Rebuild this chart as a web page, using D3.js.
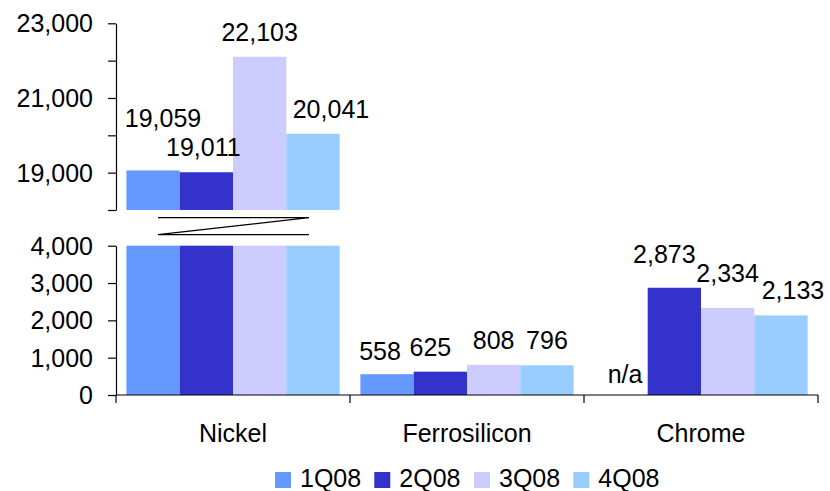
<!DOCTYPE html>
<html>
<head>
<meta charset="utf-8">
<script src="https://cdn.jsdelivr.net/npm/d3@7"></script>
<style>
  body { margin: 0; background: #fff; }
  svg text { font-family: "Liberation Sans", Arial, sans-serif; font-size: 25px; fill: #000; }
</style>
</head>
<body>
<svg id="chart" width="830" height="491"></svg>
<script>
// Price data by product and quarter
const categories = ["Nickel", "Ferrosilicon", "Chrome"];
const seriesNames = ["1Q08", "2Q08", "3Q08", "4Q08"];
const q1 = [19059, 558, null];
const q2 = [19011, 625, 2873];
const q3 = [22103, 808, 2334];
const q4 = [20041, 796, 2133];
const colors = ["#6699FF", "#3333CC", "#CCCCFF", "#99CCFF"];
const lowTicks = [0, 1000, 2000, 3000, 4000];
const highTicks = [18000, 19000, 20000, 21000, 22000, 23000];
const highLabelled = [19000, 21000, 23000];

// Label nudges [dx, dy] per series x category, so crowded labels don't overlap
const labelNudge = [
  [[10, -27], [-7, 2], [4, 4]],
  [[-3, 0], [-10, 0], [-10, -9]],
  [[0, 0], [0, 0], [0, -10]],
  [[18, 0], [0, 0], [12, 0]]
];

const series = [q1, q2, q3, q4];
const fmt = d3.format(",");

const svg = d3.select("#chart");

// Scales: broken value axis (low 0–4,000, high 18,000–23,000)
const x = d3.scaleBand().domain(categories).range([116, 818]).padding(0);
const xs = d3.scaleBand().domain(seriesNames).range([0, x.bandwidth()])
  .paddingInner(0).paddingOuter(0.195);
const yLow = d3.scaleLinear().domain([0, 4000]).range([395, 245.7]);
const yHigh = d3.scaleLinear().domain([18000, 23000]).range([210, 23.3]);
const lowMax = yLow.domain()[1];
const highMin = yHigh.domain()[0];

function stext(parent, px, py, str, anchor) {
  return parent.append("text")
    .attr("x", px).attr("y", py)
    .attr("text-anchor", anchor || "middle")
    .text(str);
}

// Bars
const bars = svg.append("g");
series.forEach((vals, si) => {
  vals.forEach((v, ci) => {
    if (v == null) return;
    const bx = x(categories[ci]) + xs(seriesNames[si]);
    const w = xs.bandwidth();
    const lowTop = yLow(Math.min(v, lowMax));
    bars.append("rect")
      .attr("x", bx).attr("width", w)
      .attr("y", lowTop).attr("height", yLow(0) - lowTop)
      .attr("fill", colors[si]);
    if (v > lowMax) {
      bars.append("rect")
        .attr("x", bx).attr("width", w)
        .attr("y", yHigh(v)).attr("height", yHigh(highMin) - yHigh(v))
        .attr("fill", colors[si]);
    }
  });
});

// Axis break marker
const brk = svg.append("g").attr("stroke", "#000").attr("stroke-width", 1.2).attr("fill", "none");
const bx0 = 158, bx1 = 309, byTop = 217.7, byBot = 234.7;
brk.append("path").attr("d", `M${bx0},${byTop}H${bx1}L${bx0},${byBot}H${bx1}`);

// Y axes
const axLow = svg.append("g").attr("transform", "translate(116,0)")
  .call(d3.axisLeft(yLow).tickValues(lowTicks).tickSize(8).tickSizeOuter(0).tickFormat(""));
const axHigh = svg.append("g").attr("transform", "translate(116,0)")
  .call(d3.axisLeft(yHigh).tickValues(highTicks).tickSize(8).tickSizeOuter(0).tickFormat(""));
[axLow, axHigh].forEach(a => {
  a.selectAll("path, line").attr("stroke", "#000").attr("stroke-width", 1.2);
});
const tl = svg.append("g");
lowTicks.forEach(t => stext(tl, 93, yLow(t) + 9, fmt(t), "end"));
highLabelled.forEach(t => stext(tl, 93, yHigh(t) + 9, fmt(t), "end"));

// X axis with category dividers
const xa = svg.append("g").attr("stroke", "#000").attr("stroke-width", 1.2);
xa.append("line").attr("x1", x.range()[0]).attr("x2", x.range()[1])
  .attr("y1", yLow(0)).attr("y2", yLow(0));
const dividers = categories.map(c => x(c)).concat([x.range()[1]]);
dividers.forEach(dx => {
  xa.append("line").attr("x1", dx).attr("x2", dx).attr("y1", yLow(0)).attr("y2", yLow(0) + 8);
});
const cl = svg.append("g");
categories.forEach(c => stext(cl, x(c) + x.bandwidth() / 2, 441.5, c));

// Value labels
const vl = svg.append("g");
series.forEach((vals, si) => {
  vals.forEach((v, ci) => {
    const cx = x(categories[ci]) + xs(seriesNames[si]) + xs.bandwidth() / 2;
    const top = v == null ? yLow(0) : (v > lowMax ? yHigh(v) : yLow(v));
    const [ndx, ndy] = labelNudge[si][ci];
    stext(vl, cx + ndx, top - 16 + ndy, v == null ? "n/a" : fmt(v));
  });
});

// Legend
const lg = svg.append("g");
const legendX = [275, 374.3, 474, 573.3];
seriesNames.forEach((s, i) => {
  lg.append("rect").attr("x", legendX[i]).attr("y", 472).attr("width", 16).attr("height", 16)
    .attr("fill", colors[i]);
  stext(lg, legendX[i] + 25, 487, s, "start");
});
</script>
</body>
</html>
